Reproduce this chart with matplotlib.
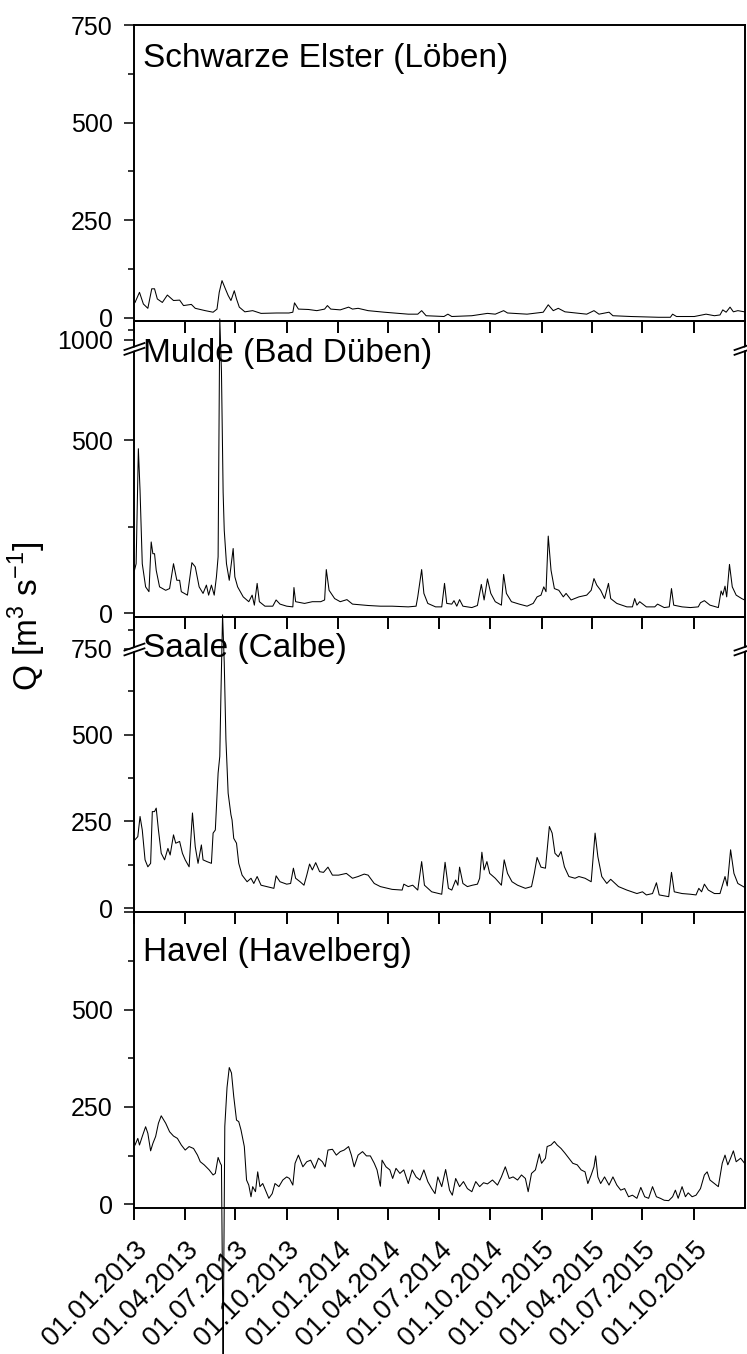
import datetime as dt

import numpy as np
import matplotlib
matplotlib.use('Agg')
import matplotlib.pyplot as plt
import matplotlib.dates as mdates
from matplotlib.lines import Line2D
from matplotlib.patches import Polygon
from matplotlib.transforms import blended_transform_factory

plt.rcParams['font.family'] = ['Liberation Sans', 'DejaVu Sans']

START = dt.datetime(2013, 1, 1)

# discharge records: day since 01.01.2013 and Q [m3 s-1]
elster_day = [1, 9, 16, 24, 31, 36, 41, 50, 59, 70,
              81, 88, 102, 109, 127, 141, 148, 152, 157, 163,
              168, 173, 175, 179, 183, 188, 198, 212, 227, 255,
              277, 284, 287, 294, 312, 327, 341, 346, 352, 369,
              384, 391, 401, 419, 448, 491, 508, 515, 523, 555,
              562, 569, 605, 633, 647, 662, 669, 704, 733, 742,
              751, 760, 772, 811, 824, 833, 851, 858, 890, 940,
              961, 965, 972, 1004, 1025, 1040, 1050, 1055, 1061, 1068,
              1074, 1082, 1094]
elster_q = [39, 65, 35, 24, 74, 74, 48, 39, 58, 44,
            45, 31, 34, 24, 18, 14, 22, 65, 95, 74,
            57, 44, 52, 69, 48, 27, 15, 18, 11, 12,
            12, 14, 38, 22, 21, 18, 22, 31, 22, 20,
            27, 22, 24, 18, 14, 9, 9, 18, 5, 3,
            9, 3, 5, 11, 9, 18, 12, 9, 14, 33,
            18, 24, 15, 9, 18, 9, 14, 5, 3, 1,
            1, 9, 3, 3, 9, 5, 7, 20, 14, 27,
            15, 18, 15]

mulde_day = [0, 3, 7, 10, 14, 20, 26, 30, 33, 36,
             39, 45, 56, 63, 70, 76, 81, 84, 95, 103,
             109, 116, 123, 129, 133, 138, 143, 147, 150, 153,
             156, 159, 161, 165, 170, 174, 177, 180, 185, 195,
             205, 211, 215, 220, 224, 234, 248, 254, 261, 273,
             284, 286, 289, 305, 319, 334, 341, 344, 349, 359,
             369, 381, 391, 419, 441, 462, 491, 505, 508, 515,
             519, 526, 540, 551, 556, 560, 569, 573, 578, 583,
             589, 605, 615, 622, 627, 633, 639, 647, 658, 662,
             667, 676, 690, 704, 715, 722, 729, 734, 738, 742,
             747, 753, 761, 769, 774, 783, 797, 811, 819, 824,
             829, 836, 843, 850, 854, 865, 883, 893, 897, 901,
             906, 918, 933, 938, 950, 959, 963, 967, 982, 997,
             1011, 1015, 1022, 1032, 1047, 1052, 1055, 1059, 1062, 1067,
             1072, 1079, 1089, 1094]
mulde_q = [124, 143, 476, 355, 143, 76, 62, 206, 172, 172,
           124, 76, 66, 71, 143, 95, 95, 62, 52, 146,
           134, 76, 57, 81, 52, 81, 52, 105, 163, 1550,
           700, 350, 240, 143, 95, 148, 187, 105, 76, 47,
           33, 52, 23, 86, 33, 20, 20, 38, 26, 20,
           18, 74, 33, 28, 33, 33, 38, 126, 66, 42,
           33, 39, 26, 22, 20, 20, 18, 20, 47, 126,
           57, 28, 18, 18, 86, 28, 26, 36, 20, 39,
           20, 16, 22, 83, 38, 99, 57, 33, 23, 112,
           57, 33, 26, 20, 28, 47, 52, 76, 62, 223,
           124, 71, 66, 47, 57, 38, 47, 52, 66, 100,
           81, 66, 42, 86, 42, 28, 18, 18, 42, 23,
           33, 18, 18, 26, 16, 18, 71, 23, 18, 16,
           18, 30, 36, 23, 16, 64, 52, 78, 47, 141,
           76, 52, 42, 38]

saale_day = [1, 6, 10, 14, 19, 24, 29, 32, 36, 39,
             43, 48, 54, 60, 64, 70, 74, 81, 86, 91,
             98, 104, 109, 114, 120, 123, 130, 138, 141, 145,
             150, 153, 155, 158, 161, 164, 168, 173, 175, 178,
             183, 187, 193, 202, 209, 214, 220, 227, 237, 250,
             254, 261, 273, 280, 285, 289, 297, 304, 309, 314,
             319, 325, 332, 339, 347, 355, 366, 380, 391, 401,
             412, 419, 430, 441, 462, 480, 483, 491, 499, 508,
             515, 520, 533, 551, 557, 563, 569, 576, 580, 583,
             589, 597, 606, 615, 619, 623, 627, 632, 637, 647,
             658, 663, 669, 677, 687, 701, 712, 717, 722, 729,
             737, 744, 749, 754, 760, 765, 771, 779, 790, 797,
             808, 819, 826, 831, 838, 847, 854, 868, 883, 901,
             911, 918, 929, 936, 941, 958, 963, 968, 982, 997,
             1007, 1012, 1017, 1022, 1029, 1040, 1050, 1059, 1063, 1069,
             1075, 1082, 1094]
saale_q = [197, 206, 264, 225, 139, 119, 129, 278, 278, 288,
           225, 158, 139, 172, 153, 211, 187, 192, 158, 139,
           119, 274, 177, 129, 182, 139, 134, 129, 216, 225,
           389, 437, 611, 970, 707, 486, 331, 269, 254, 201,
           187, 129, 95, 76, 86, 71, 91, 66, 62, 57,
           93, 76, 69, 71, 115, 86, 76, 66, 95, 127,
           110, 131, 105, 103, 118, 95, 95, 100, 86, 91,
           98, 95, 71, 62, 54, 52, 69, 62, 66, 52,
           134, 66, 47, 40, 132, 57, 52, 81, 66, 118,
           71, 62, 66, 69, 86, 161, 110, 134, 100, 86,
           66, 139, 100, 76, 66, 57, 62, 100, 146, 118,
           115, 235, 216, 158, 148, 163, 119, 91, 86, 91,
           86, 76, 216, 148, 91, 71, 83, 62, 52, 42,
           47, 38, 42, 73, 38, 33, 103, 47, 42, 40,
           38, 57, 47, 69, 52, 42, 42, 91, 64, 168,
           100, 71, 60]

havel_day = [1, 6, 9, 14, 20, 24, 29, 33, 38, 43,
             48, 56, 63, 70, 77, 84, 91, 98, 106, 113,
             118, 125, 134, 141, 145, 150, 154, 156, 159, 162,
             166, 170, 174, 178, 183, 187, 191, 197, 201, 205,
             209, 212, 217, 221, 225, 230, 235, 241, 247, 252,
             259, 266, 273, 278, 284, 288, 294, 302, 309, 316,
             323, 330, 337, 342, 347, 355, 362, 369, 376, 384,
             389, 394, 401, 409, 416, 423, 430, 435, 441, 444,
             451, 458, 463, 469, 476, 483, 491, 498, 505, 512,
             519, 526, 533, 539, 544, 551, 558, 565, 570, 576,
             583, 590, 597, 605, 612, 619, 626, 633, 642, 651,
             658, 665, 672, 679, 687, 694, 701, 706, 712, 719,
             726, 730, 737, 740, 747, 753, 758, 765, 772, 779,
             786, 794, 801, 808, 813, 819, 824, 827, 831, 836,
             843, 851, 858, 865, 872, 879, 886, 893, 901, 908,
             915, 922, 929, 936, 943, 950, 958, 965, 970, 975,
             982, 988, 993, 1000, 1007, 1015, 1022, 1027, 1032, 1040,
             1047, 1054, 1059, 1064, 1069, 1074, 1079, 1087, 1094]
havel_q = [152, 169, 152, 174, 199, 182, 137, 156, 174, 208,
           227, 208, 186, 175, 169, 152, 139, 148, 143, 126,
           109, 101, 88, 75, 79, 120, 105, 100, -400, 200,
           300, 351, 337, 277, 216, 212, 191, 148, 62, 49,
           19, 45, 32, 83, 45, 53, 36, 15, 27, 53,
           45, 62, 70, 66, 49, 105, 126, 96, 109, 113,
           92, 118, 109, 96, 139, 141, 126, 135, 139, 148,
           126, 96, 126, 135, 124, 124, 105, 88, 46, 113,
           96, 88, 66, 92, 79, 88, 53, 88, 70, 62,
           88, 58, 40, 27, 70, 45, 89, 36, 23, 66,
           45, 58, 40, 32, 58, 45, 55, 52, 62, 49,
           70, 96, 66, 70, 62, 75, 66, 32, 79, 88,
           129, 105, 118, 148, 152, 161, 152, 143, 131, 118,
           105, 101, 88, 83, 53, 75, 96, 124, 70, 53,
           70, 49, 70, 49, 36, 40, 19, 23, 15, 43,
           19, 15, 45, 19, 15, 10, 9, 19, 36, 15,
           45, 19, 29, 19, 23, 40, 75, 83, 62, 53,
           45, 105, 126, 101, 118, 137, 109, 118, 105]

stations = ['Schwarze Elster (Löben)', 'Mulde (Bad Düben)',
            'Saale (Calbe)', 'Havel (Havelberg)']
series_day = [elster_day, mulde_day, saale_day, havel_day]
series_q = [elster_q, mulde_q, saale_q, havel_q]

y_major = [[0, 250, 500, 750], [0, 500, 1000], [0, 250, 500, 750], [0, 250, 500, 750]]
y_major_labels = [['0', '250', '500', '750'], ['0', '500', '1000'],
                  ['0', '250', '500', '750'], ['0', '250', '500', '']]
y_minor = [[125, 375, 625], [250, 1250], [125, 375, 625, 875], [125, 375, 625]]
y_limits = [(-8, 750), (-10, 1500), (-12, 959), (-10, 750)]
# broken y axes: value of the break, compression of the range above it
y_breaks = [None, (765, 0.111), (745, 0.445), None]
title_y = [0.858, 0.859, 0.864, 0.834]


def to_dates(days):
    return [START + dt.timedelta(days=d) for d in days]


def break_funcs(lo, k):
    xs = np.array([-1e5, lo, lo + 1.0, 1e5])
    ys = np.array([-1e5, lo, lo + 0.01, lo + 0.01 + (1e5 - lo - 1.0) * k])
    return (lambda v: np.interp(v, xs, ys)), (lambda v: np.interp(v, ys, xs))


fig, axes = plt.subplots(4, 1, sharex=True, figsize=(7.47, 13.54), dpi=100)
fig.subplots_adjust(left=0.18, right=0.9967, top=0.9815, bottom=0.1078, hspace=0)

for i, ax in enumerate(axes):
    ax.set_facecolor('none')
    if y_breaks[i] is not None:
        ax.set_yscale('function', functions=break_funcs(*y_breaks[i]))
    ax.plot(to_dates(series_day[i]), series_q[i], color='black', lw=0.75, clip_on=False)
    ax.set_ylim(*y_limits[i])
    ax.set_yticks(y_major[i], y_major_labels[i])
    ax.set_yticks(y_minor[i], minor=True)
    ax.tick_params(axis='y', which='major', direction='out', length=7.5, width=1.1,
                   labelsize=18, pad=8)
    ax.tick_params(axis='y', which='minor', direction='out', length=4.5, width=1.1)
    ax.tick_params(axis='x', which='major', direction='out', length=8.5, width=1.4,
                   pad=12)
    for s in ax.spines.values():
        s.set_linewidth(1.4)
    ax.text(0.014, title_y[i], stations[i], transform=ax.transAxes, fontsize=24,
            va='baseline')

ax = axes[-1]
ax.set_xlim(START, START + dt.timedelta(days=1094))
ax.xaxis.set_major_locator(mdates.MonthLocator(bymonth=[1, 4, 7, 10]))
ax.xaxis.set_major_formatter(mdates.DateFormatter('%d.%m.%Y'))
plt.setp(ax.get_xticklabels(), rotation=45, ha='right', va='top',
         rotation_mode='anchor', fontsize=19.5)

fig.text(27 / 747, 1 - 616 / 1354, 'Q [m$^\\mathregular{3}$ s$^\\mathregular{-1}$]',
         rotation=90, fontsize=24, ha='center', va='center')

# axis break marks on both sides of the broken panels
W, H = fig.bbox.width, fig.bbox.height
for i, ax in enumerate(axes):
    if y_breaks[i] is None:
        continue
    trans = blended_transform_factory(ax.transAxes, ax.transData)
    for xa in (0, 1):
        px, py = trans.transform((xa, y_breaks[i][0]))
        hw, rise, d = 10, 3.5, 2.4
        gap = [(px - hw, py - rise - d + 0.9), (px + hw, py + rise - d + 0.9),
               (px + hw, py + rise + d - 0.9), (px - hw, py - rise + d - 0.9)]
        fig.add_artist(Polygon([(x / W, y / H) for x, y in gap], closed=True,
                               facecolor='white', edgecolor='none',
                               transform=fig.transFigure))
        for off in (-d, d):
            fig.add_artist(Line2D([(px - hw) / W, (px + hw) / W],
                                  [(py - rise + off) / H, (py + rise + off) / H],
                                  color='black', lw=1.3, transform=fig.transFigure))

fig.savefig('out.png', dpi=100)
